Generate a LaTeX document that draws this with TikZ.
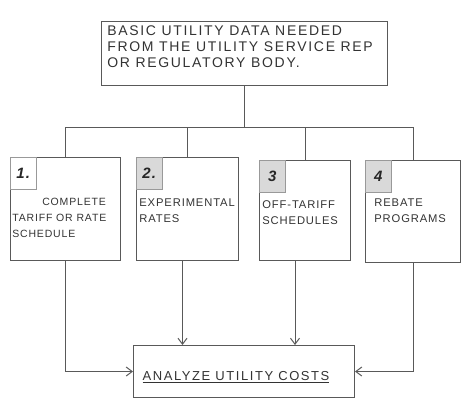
\documentclass[tikz,border=0pt]{standalone}
\usepackage{fontspec}
\setmainfont{Liberation Sans}[LetterSpace=8]
\newfontfamily\widefont{Liberation Sans}[LetterSpace=12]
\newfontfamily\midfont{Liberation Sans}[LetterSpace=12]
\usetikzlibrary{arrows.meta,positioning}

\begin{document}
\begin{tikzpicture}[x=1pt, y=-1pt, >={Straight Barb[length=6pt,width=9pt]}, semithick,
    pencil/.style={draw=black!65, line width=1pt},
    box/.style={pencil, rectangle, inner sep=0pt, anchor=north west},
    txt/.style={text=black!80, align=left, inner sep=0pt, anchor=north west,
        font=\fontsize{11.2}{16}\selectfont},
    num/.style={draw=black!40, fill=black!15, thin, inner sep=0pt, anchor=north west,
        minimum width=26pt, minimum height=32pt, text=black!85,
        font=\fontsize{15}{15}\selectfont\bfseries\itshape}]
    \useasboundingbox (0,0) rectangle (462,402);
    \node[box, minimum width=286pt, minimum height=64pt] (data) at (101,21) {};
    \node[txt, font=\widefont\fontsize{14}{16}\selectfont] (datatext) at (107,25)
        {BASIC UTILITY DATA NEEDED\\FROM THE UTILITY SERVICE REP\\OR REGULATORY BODY.};

    \node[box, minimum width=110pt, minimum height=103pt] (tariff) at (10,157) {};
    \node[box, minimum width=102pt, minimum height=103pt] (experimental) at (136,157) {};
    \node[box, minimum width=91pt, minimum height=100pt] (offtariff) at (259,160) {};
    \node[box, minimum width=95pt, minimum height=102pt] (rebate) at (365,160) {};
    \node[box, minimum width=221pt, minimum height=52pt] (analyze) at (133,345) {};

    \node[num, fill=none] (n1) at (tariff.north west) {1.};
    \node[num] (n2) at (experimental.north west) {2.};
    \node[num] (n3) at (offtariff.north west) {3};
    \node[num] (n4) at (rebate.north west) {4};

    \node[txt, font=\fontsize{10.5}{16}\selectfont] (tarifftext) at (12,198)
        {\hspace*{30pt}COMPLETE\\TARIFF OR RATE\\SCHEDULE};
    \node[txt] (experimentaltext) at (139,198) {EXPERIMENTAL\\RATES};
    \node[txt] (offtarifftext) at (262,200) {OFF-TARIFF\\SCHEDULES};
    \node[txt] (rebatetext) at (374,198) {REBATE\\PROGRAMS};
    \node[txt, anchor=center, font=\midfont\fontsize{13}{16}\selectfont] (analyzetext) at (236,377)
        {\underline{ANALYZE UTILITY COSTS}};

    \coordinate (bus) at (0,127);
    \draw[pencil] (data.south) -- (data.south |- bus);
    \draw[pencil] (tariff.north |- bus) -- (rebate.north |- bus);
    \foreach \b in {tariff,experimental,offtariff,rebate}
        \draw[pencil] (\b.north |- bus) -- (\b.north);

    \draw[pencil, ->] (tariff.south) |- (analyze.west);
    \draw[pencil, ->] ([xshift=-5pt]experimental.south) -- ([xshift=-5pt]experimental.south |- analyze.north);
    \draw[pencil, ->] ([xshift=-10pt]offtariff.south) -- ([xshift=-10pt]offtariff.south |- analyze.north);
    \draw[pencil, ->] (rebate.south) |- (analyze.east);
\end{tikzpicture}
\end{document}
